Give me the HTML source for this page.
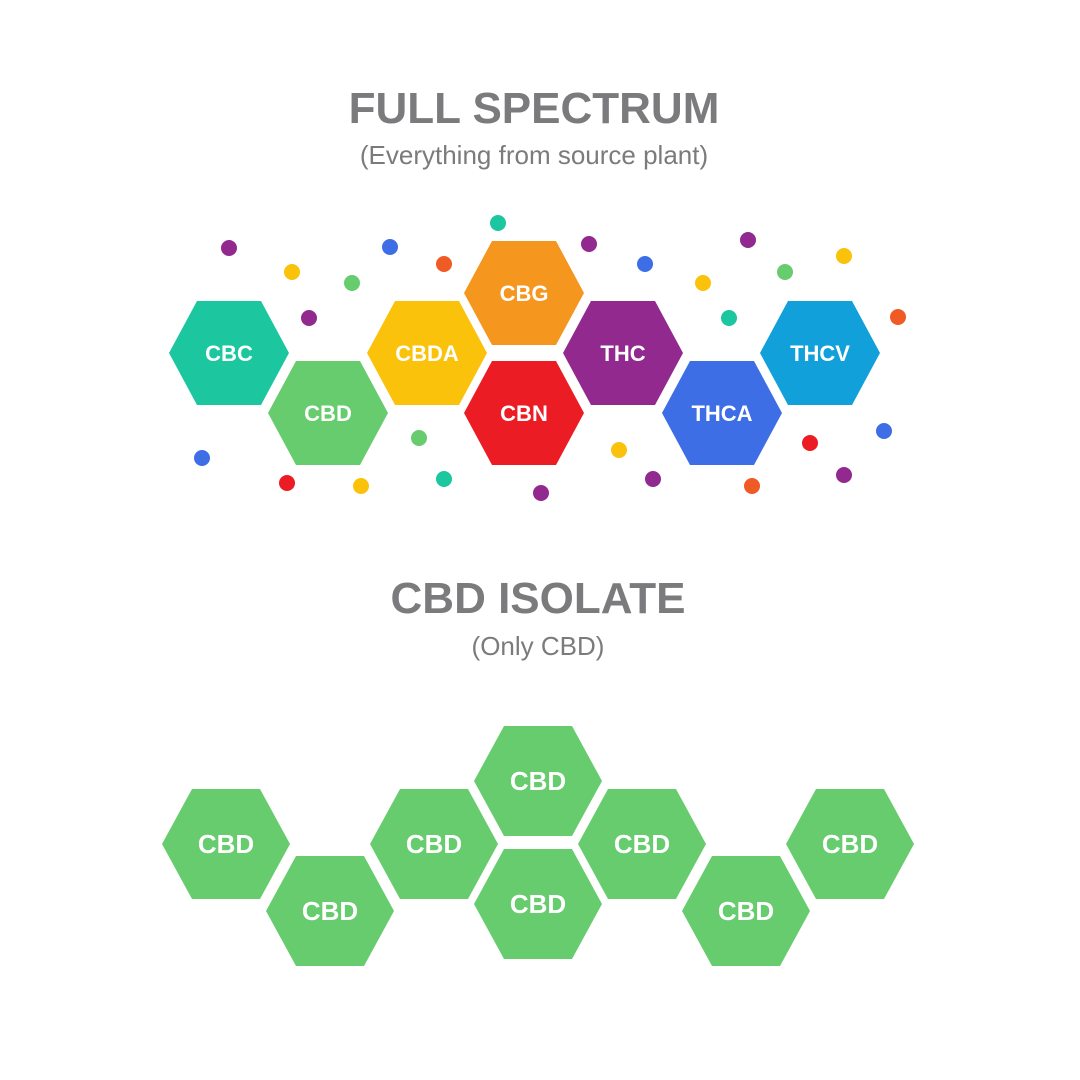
<!DOCTYPE html>
<html><head><meta charset="utf-8"><style>
html,body{margin:0;padding:0;background:#fff;}
svg{display:block;}
text{font-family:"Liberation Sans","DejaVu Sans",sans-serif;}
</style></head><body>
<svg width="1080" height="1080" viewBox="0 0 1080 1080" xmlns="http://www.w3.org/2000/svg">
<rect width="1080" height="1080" fill="#fff"/>
<text x="534" y="123" text-anchor="middle" font-size="44" font-weight="bold" fill="#7b7b7d">FULL SPECTRUM</text>
<text x="534" y="164" text-anchor="middle" font-size="26" fill="#7b7b7d">(Everything from source plant)</text>
<text x="538" y="613" text-anchor="middle" font-size="44" font-weight="bold" fill="#7b7b7d">CBD ISOLATE</text>
<text x="538" y="655" text-anchor="middle" font-size="26" fill="#7b7b7d">(Only CBD)</text>
<g>
<circle cx="229" cy="248" r="8" fill="#92298f"/><circle cx="292" cy="272" r="8" fill="#fbc20c"/>
<circle cx="352" cy="283" r="8" fill="#66cc6e"/><circle cx="309" cy="318" r="8" fill="#92298f"/>
<circle cx="390" cy="247" r="8" fill="#3d6ee6"/><circle cx="444" cy="264" r="8" fill="#f05a24"/>
<circle cx="498" cy="223" r="8" fill="#1cc7a0"/><circle cx="589" cy="244" r="8" fill="#92298f"/>
<circle cx="645" cy="264" r="8" fill="#3d6ee6"/><circle cx="703" cy="283" r="8" fill="#fbc20c"/>
<circle cx="729" cy="318" r="8" fill="#1cc7a0"/><circle cx="748" cy="240" r="8" fill="#92298f"/>
<circle cx="785" cy="272" r="8" fill="#66cc6e"/><circle cx="844" cy="256" r="8" fill="#fbc20c"/>
<circle cx="898" cy="317" r="8" fill="#f05a24"/><circle cx="202" cy="458" r="8" fill="#3d6ee6"/>
<circle cx="287" cy="483" r="8" fill="#ec1c24"/><circle cx="361" cy="486" r="8" fill="#fbc20c"/>
<circle cx="419" cy="438" r="8" fill="#66cc6e"/><circle cx="444" cy="479" r="8" fill="#1cc7a0"/>
<circle cx="541" cy="493" r="8" fill="#92298f"/><circle cx="619" cy="450" r="8" fill="#fbc20c"/>
<circle cx="653" cy="479" r="8" fill="#92298f"/><circle cx="752" cy="486" r="8" fill="#f05a24"/>
<circle cx="810" cy="443" r="8" fill="#ec1c24"/><circle cx="884" cy="431" r="8" fill="#3d6ee6"/>
<circle cx="844" cy="475" r="8" fill="#92298f"/>
</g>
<g font-size="22" font-weight="bold" fill="#fff" text-anchor="middle">
<g transform="translate(229,353)"><polygon points="-60,0 -32,-52 32,-52 60,0 32,52 -32,52" fill="#1cc7a0"/><text y="8">CBC</text></g>
<g transform="translate(328,413)"><polygon points="-60,0 -32,-52 32,-52 60,0 32,52 -32,52" fill="#66cc6e"/><text y="8">CBD</text></g>
<g transform="translate(427,353)"><polygon points="-60,0 -32,-52 32,-52 60,0 32,52 -32,52" fill="#fbc20c"/><text y="8">CBDA</text></g>
<g transform="translate(524,293)"><polygon points="-60,0 -32,-52 32,-52 60,0 32,52 -32,52" fill="#f5961f"/><text y="8">CBG</text></g>
<g transform="translate(524,413)"><polygon points="-60,0 -32,-52 32,-52 60,0 32,52 -32,52" fill="#ec1c24"/><text y="8">CBN</text></g>
<g transform="translate(623,353)"><polygon points="-60,0 -32,-52 32,-52 60,0 32,52 -32,52" fill="#92298f"/><text y="8">THC</text></g>
<g transform="translate(722,413)"><polygon points="-60,0 -32,-52 32,-52 60,0 32,52 -32,52" fill="#3d6ee6"/><text y="8">THCA</text></g>
<g transform="translate(820,353)"><polygon points="-60,0 -32,-52 32,-52 60,0 32,52 -32,52" fill="#11a0d9"/><text y="8">THCV</text></g>
</g>
<g font-size="26" font-weight="bold" fill="#fff" text-anchor="middle">
<g transform="translate(226,844)"><polygon points="-64,0 -34,-55 34,-55 64,0 34,55 -34,55" fill="#66cc6e"/><text y="9">CBD</text></g>
<g transform="translate(330,911)"><polygon points="-64,0 -34,-55 34,-55 64,0 34,55 -34,55" fill="#66cc6e"/><text y="9">CBD</text></g>
<g transform="translate(434,844)"><polygon points="-64,0 -34,-55 34,-55 64,0 34,55 -34,55" fill="#66cc6e"/><text y="9">CBD</text></g>
<g transform="translate(538,781)"><polygon points="-64,0 -34,-55 34,-55 64,0 34,55 -34,55" fill="#66cc6e"/><text y="9">CBD</text></g>
<g transform="translate(538,904)"><polygon points="-64,0 -34,-55 34,-55 64,0 34,55 -34,55" fill="#66cc6e"/><text y="9">CBD</text></g>
<g transform="translate(642,844)"><polygon points="-64,0 -34,-55 34,-55 64,0 34,55 -34,55" fill="#66cc6e"/><text y="9">CBD</text></g>
<g transform="translate(746,911)"><polygon points="-64,0 -34,-55 34,-55 64,0 34,55 -34,55" fill="#66cc6e"/><text y="9">CBD</text></g>
<g transform="translate(850,844)"><polygon points="-64,0 -34,-55 34,-55 64,0 34,55 -34,55" fill="#66cc6e"/><text y="9">CBD</text></g>
</g>
</svg>
</body></html>
